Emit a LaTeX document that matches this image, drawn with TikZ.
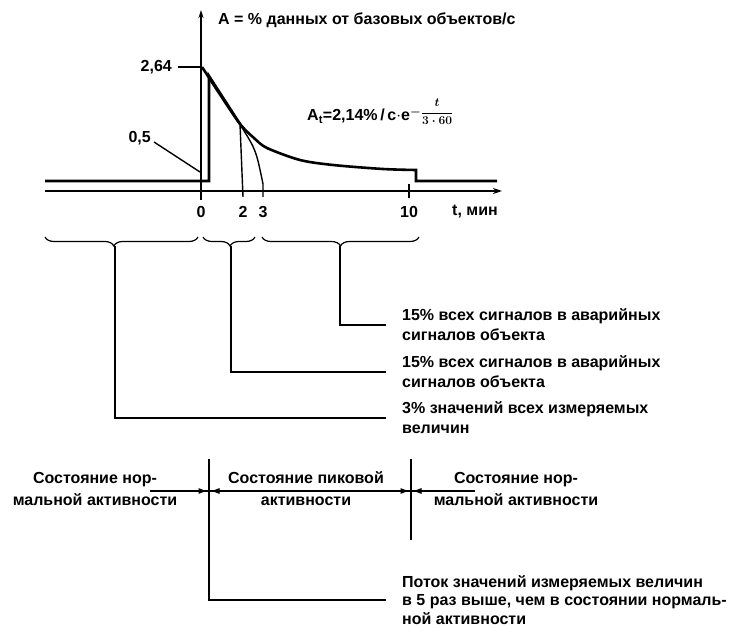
\documentclass[tikz,border=0pt]{standalone}
\usepackage{amsmath}
\usepackage{fontspec}
\setmainfont{Liberation Sans}
\usetikzlibrary{calc,arrows.meta,decorations.pathreplacing}

\begin{document}
\begin{tikzpicture}[x=1pt,y=-1pt,
	lbl/.style={font=\bfseries\fontsize{16}{20}\selectfont,inner sep=0pt},
	txt/.style={lbl,align=left,anchor=west},
	axis/.style={line width=1.4pt},
	sig/.style={line width=2.6pt},
	lead/.style={line width=2.2pt},
	thinlead/.style={line width=1.2pt},
	cbrace/.style={line width=1.2pt,decorate,decoration={brace,amplitude=9pt,mirror,aspect=#1}},
	cbrace/.default=0.5,
	tip/.style={-{Latex[length=9pt,width=6pt]},line width=1pt}]
		\useasboundingbox (0,0) rectangle (743,628);
		% axes
		\coordinate (O) at (201,191);
		\draw[axis,-{Stealth[length=8pt,width=5pt]}] (201,200) -- (201,10);
		\draw[sig,-{Stealth[length=9pt,width=6pt]}] (45,191) -- (502,191);
		\node[lbl,anchor=west] (ttl) at (218,20) {A = \% данных от базовых объектов/с};
		\node[lbl,anchor=west] (tax) at (452,212) {t, мин};
		\foreach \t/\x in {0/201,2/243,3/263,10/409}
		\node[lbl] (tk\t) at (\x,212) {\t};
		\draw[axis] (409,184) -- (409,198);
		% levels
		\node[lbl,anchor=east] (hi) at (172,67) {2,64};
		\node[lbl,anchor=east] (lo) at (151,138) {0,5};
		\draw[axis] (hi.east) ++(6,0) -- (201,67);
		\draw[axis] (lo.east) ++(3,4) -- (200,172);
		% signal
		\draw[sig] plot[smooth] coordinates {(202,67) (221,96) (240,124) (254,138) (267,148) (300,160) (333,165) (383,169) (416,170)}
			-- (416,181) -- (497,181);
		\draw[sig] (45,181) -- (209,181) -- (209,76) -- (240,124);
		\draw[axis] (240,124) -- (243,197);
		\draw[axis] (241,126) .. controls (256,150) .. (263,184) -- (263,197);
		\node[lbl,anchor=west] (fml) at (307,112) {A\textsubscript{t}=2,14\%\,/\,с$\cdot$е\raisebox{5pt}{\fontsize{12}{12}\selectfont$\boldsymbol{-\dfrac{t}{3\cdot 60}}$}};
		% braces
		\draw[cbrace=0.45] (45,237) -- (198,237);
		\draw[cbrace=0.52] (203,237) -- (255,237);
		\draw[cbrace] (262,237) -- (419,237);
		\coordinate (b1) at (115,246);
		\coordinate (b2) at (231,246);
		\coordinate (b3) at (340,246);
		\node[txt] (n1) at (402,325) {15\% всех сигналов в аварийных\\сигналов объекта};
		\node[txt] (n2) at (402,372) {15\% всех сигналов в аварийных\\сигналов объекта};
		\node[txt] (n3) at (402,418) {3\% значений всех измеряемых\\величин};
		\draw[thinlead,shorten >=16pt] (b3) |- (n1.west);
		\draw[lead,shorten >=16pt] (b2) |- (n2.west);
		\draw[lead,shorten >=16pt] (b1) |- (n3.west);
		% states
		\tikzset{state/.style={lbl,align=center,font=\bfseries\fontsize{16}{22}\selectfont}}
		\node[state] (s1) at (95,489) {Состояние нор-\\мальной активности};
		\node[state] (s2) at (306,489) {Состояние пиковой\\активности};
		\node[state] (s3) at (516,489) {Состояние нор-\\мальной активности};
		\coordinate (v1) at (209,459);
		\coordinate (v1b) at (209,547);
		\coordinate (v2) at (411,459);
		\coordinate (v2b) at (411,540);
		\draw[sig] (v1) -- (v1b);
		\draw[sig] (v2) -- (v2b);
		\draw[thinlead] (150,491) -- (475,491);
		\foreach \v in {209,411} {
		\draw[tip] (\v-14,491) -- (\v-1.5,491);
		\draw[tip] (\v+14,491) -- (\v+1.5,491);
		}
		\node[txt,font=\bfseries\fontsize{16}{18.5}\selectfont] (n4) at (402,600) {Поток значений измеряемых величин\\в 5 раз выше, чем в состоянии нормаль-\\ной активности};
		\draw[thinlead,shorten >=16pt] (v1b) |- (n4.west);
	\end{tikzpicture}
\end{document}
